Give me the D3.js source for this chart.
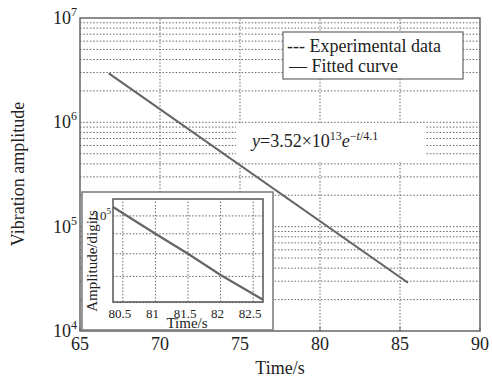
<!DOCTYPE html>
<html>
<head>
<meta charset="utf-8">
<script src="https://cdn.jsdelivr.net/npm/d3@7"></script>
<style>
  body { margin: 0; background: #fff; }
  svg text { font-family: "Liberation Serif", "Times New Roman", Times, "DejaVu Serif", serif; fill: #222; }
</style>
</head>
<body>
<div id="chart"></div>
<script>
// Data
const xTicks = [65, 70, 75, 80, 85, 90];
const yDecades = [4, 5, 6, 7];
const fitTime = [66.8, 85.5];
const fitAmp = [2.95e6, 2.9e4];
const expTime = [66.8, 70, 75, 80, 85.5];
const expAmp = [2.95e6, 1.34e6, 3.88e5, 1.13e5, 2.9e4];

const insetTicks = [80.5, 81, 81.5, 82, 82.5];
const insetGridAmp = [1e5, 9e4, 8e4, 7e4, 6e4];
const insetTime = [80.35, 81, 81.5, 82, 82.65];
const insetAmp = [1.054e5, 9.0e4, 8.0e4, 7.06e4, 6.1e4];

const width = 492, height = 381;
const svg = d3.select("#chart").append("svg")
    .attr("width", width)
    .attr("height", height)
    .attr("font-family", "'Liberation Serif', 'Times New Roman', Times, 'DejaVu Serif', serif");

// Main axes
const x = d3.scaleLinear().domain([65, 90]).range([80, 480]);
const y = d3.scaleLog().domain([1e4, 1e7]).range([331, 18]);

// grid: horizontal at every log minor tick
const minor = [];
for (let k = 4; k < 7; k++) for (let m = 1; m <= 9; m++) minor.push(m * Math.pow(10, k));
svg.append("g").selectAll("line").data(minor.slice(1)).enter().append("line")
    .attr("x1", x(65)).attr("x2", x(90))
    .attr("y1", d => y(d)).attr("y2", d => y(d))
    .attr("stroke", "#666").attr("stroke-width", 1).attr("stroke-dasharray", "1.5,1.8");
svg.append("g").selectAll("line").data(xTicks.slice(1, -1)).enter().append("line")
    .attr("x1", d => x(d)).attr("x2", d => x(d))
    .attr("y1", y(1e4)).attr("y2", y(1e7))
    .attr("stroke", "#666").attr("stroke-width", 1).attr("stroke-dasharray", "1.5,1.8");

// tick marks
svg.append("g").selectAll("line").data(xTicks).enter().append("line")
    .attr("x1", d => x(d)).attr("x2", d => x(d))
    .attr("y1", y(1e4)).attr("y2", y(1e4) - 4)
    .attr("stroke", "#555");

// frame
svg.append("rect")
    .attr("x", x(65)).attr("y", y(1e7))
    .attr("width", x(90) - x(65)).attr("height", y(1e4) - y(1e7))
    .attr("fill", "none").attr("stroke", "#666").attr("stroke-width", 1.5);

// white box behind the equation
svg.append("rect")
    .attr("x", 236).attr("y", 123).attr("width", 189).attr("height", 39)
    .attr("fill", "#fff");

// data lines
const line = d3.line().x(d => x(d[0])).y(d => y(d[1]));
svg.append("path")
    .datum(d3.zip(fitTime, fitAmp))
    .attr("d", line)
    .attr("fill", "none").attr("stroke", "#666").attr("stroke-width", 2);
svg.append("path")
    .datum(d3.zip(expTime, expAmp))
    .attr("d", line)
    .attr("fill", "none").attr("stroke", "#666").attr("stroke-width", 1.2)
    .attr("stroke-dasharray", "4,2");

// x tick labels
svg.append("g").selectAll("text").data(xTicks).enter().append("text")
    .attr("x", d => x(d)).attr("y", 350)
    .attr("text-anchor", "middle").attr("font-size", 18)
    .text(d => d);

// y tick labels 10^k
const yl = svg.append("g").selectAll("text").data(yDecades).enter().append("text")
    .attr("x", 77).attr("y", d => y(Math.pow(10, d)) + 6)
    .attr("text-anchor", "end").attr("font-size", 18);
yl.append("tspan").text("10");
yl.append("tspan").attr("font-size", 12).attr("dy", -8).text(d => d);

// axis titles
svg.append("text")
    .attr("x", 280).attr("y", 374)
    .attr("text-anchor", "middle").attr("font-size", 18)
    .text("Time/s");
svg.append("text")
    .attr("transform", "translate(24,174) rotate(-90)")
    .attr("text-anchor", "middle").attr("font-size", 18)
    .text("Vibration amplitude");

// legend
svg.append("rect")
    .attr("x", 283).attr("y", 32).attr("width", 180).attr("height", 47)
    .attr("fill", "#fff").attr("stroke", "#666").attr("stroke-width", 1.2);
svg.append("text").attr("x", 287).attr("y", 52).attr("font-size", 18)
    .text("--- Experimental data");
svg.append("text").attr("x", 289).attr("y", 72).attr("font-size", 18)
    .text("\u2014 Fitted curve");

// equation
const eq = svg.append("text").attr("x", 252).attr("y", 147).attr("font-size", 18);
eq.append("tspan").attr("font-style", "italic").text("y");
eq.append("tspan").text("=3.52\u00d710");
eq.append("tspan").attr("font-size", 12).attr("dy", -7).text("13");
eq.append("tspan").attr("font-style", "italic").attr("dy", 7).text("e");
eq.append("tspan").attr("font-size", 12).attr("dy", -7).text("\u2212");
eq.append("tspan").attr("font-size", 12).attr("font-style", "italic").text("t");
eq.append("tspan").attr("font-size", 12).text("/4.1");

// Inset
svg.append("rect")
    .attr("x", 82).attr("y", 192).attr("width", 191).attr("height", 138)
    .attr("fill", "#fff").attr("stroke", "#777").attr("stroke-width", 1.5);

const ix = d3.scaleLinear().domain([80.35, 82.65]).range([113, 263]);
const iy = d3.scaleLog().domain([6.02e4, 1.105e5]).range([302, 199]);

svg.append("g").selectAll("line").data(insetGridAmp).enter().append("line")
    .attr("x1", ix.range()[0]).attr("x2", ix.range()[1])
    .attr("y1", d => iy(d)).attr("y2", d => iy(d))
    .attr("stroke", "#666").attr("stroke-width", 1).attr("stroke-dasharray", "1.5,1.8");
svg.append("g").selectAll("line").data(insetTicks).enter().append("line")
    .attr("x1", d => ix(d)).attr("x2", d => ix(d))
    .attr("y1", iy.range()[0]).attr("y2", iy.range()[1])
    .attr("stroke", "#666").attr("stroke-width", 1).attr("stroke-dasharray", "1.5,1.8");

svg.append("rect")
    .attr("x", 113).attr("y", 199).attr("width", 150).attr("height", 103)
    .attr("fill", "none").attr("stroke", "#555").attr("stroke-width", 1.5);

svg.append("path")
    .datum(d3.zip(insetTime, insetAmp))
    .attr("d", d3.line().x(d => ix(d[0])).y(d => iy(d[1])))
    .attr("fill", "none").attr("stroke", "#666").attr("stroke-width", 2.2);

svg.append("g").selectAll("text").data(insetTicks).enter().append("text")
    .attr("x", d => ix(d) - 3).attr("y", 318)
    .attr("text-anchor", "middle").attr("font-size", 13)
    .text(d => d);

const il = svg.append("text").attr("x", 111).attr("y", 220)
    .attr("text-anchor", "end").attr("font-size", 13);
il.append("tspan").text("10");
il.append("tspan").attr("font-size", 9).attr("dy", -6).text("5");

svg.append("text")
    .attr("x", 187).attr("y", 328)
    .attr("text-anchor", "middle").attr("font-size", 15)
    .text("Time/s");
svg.append("text")
    .attr("transform", "translate(97,261) rotate(-90)")
    .attr("text-anchor", "middle").attr("font-size", 15)
    .text("Amplitude/digits");
</script>
</body>
</html>
